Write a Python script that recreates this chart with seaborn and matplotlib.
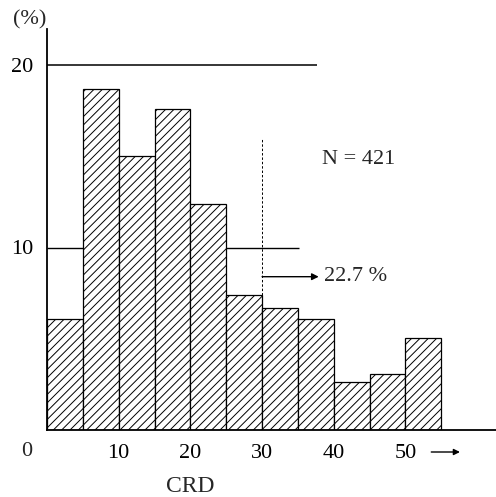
import matplotlib
matplotlib.use("Agg")
import matplotlib.pyplot as plt
import seaborn as sns
import numpy as np

# Data
bin_edges = [0, 5, 10, 15, 20, 25, 30, 35, 40, 45, 50, 55]
percent = [6.1, 18.7, 15.0, 17.6, 12.4, 7.4, 6.7, 6.1, 2.65, 3.05, 5.05]
xtick_vals = [10, 20, 30, 40, 50]
ytick_vals = [10, 20]
n_text = "N = 421"
cut_value = 30
cut_label = "22.7 %"

sns.set_style("white")
plt.rcParams['font.family'] = ['Liberation Serif', 'DejaVu Serif']
plt.rcParams['hatch.linewidth'] = 0.7

FS = 16

fig = plt.figure(figsize=(4.96, 4.97), dpi=100)
ax = fig.add_axes([47/496, 67/497, 448.8/496, 401.5/497])

centers = [(bin_edges[i] + bin_edges[i + 1]) / 2 for i in range(len(percent))]
sns.histplot(x=centers, weights=percent, bins=bin_edges, ax=ax,
             color="white", alpha=1, edgecolor="black", linewidth=0.9,
             hatch="////", zorder=3)

ax.set_xlim(0, 62.6)
ax.set_ylim(0, 22)

# partial reference lines (behind the bars)
ax.hlines(20, 0, 37.6, color="black", lw=1.1, zorder=1)
ax.hlines(10, 0, 35.1, color="black", lw=1.0, zorder=1)

# dashed cut line
ax.vlines(cut_value, percent[5], 16.0, color="black", lw=0.7,
          linestyles=(0, (2.5, 2)), zorder=4)
ax.annotate("", xy=(37.9, 8.4), xytext=(cut_value, 8.4),
            arrowprops=dict(arrowstyle="-|>", color="black", lw=1.0,
                            mutation_scale=10, shrinkA=0, shrinkB=0))
ax.text(38.7, 8.4, cut_label, fontsize=FS, va="center", ha="left")
ax.text(38.3, 14.8, n_text, fontsize=FS, va="center", ha="left")

# axes styling
for s in ["top", "right"]:
    ax.spines[s].set_visible(False)
for s in ["left", "bottom"]:
    ax.spines[s].set_color("black")
    ax.spines[s].set_linewidth(1.3)
    ax.spines[s].set_zorder(5)

ax.set_xticks(xtick_vals)
ax.set_xticklabels([str(v) for v in xtick_vals], fontsize=FS)
ax.set_yticks(ytick_vals)
ax.set_yticklabels([str(v) for v in ytick_vals], fontsize=FS)
ax.tick_params(axis="x", direction="out", length=5, width=1, pad=5, colors="black")
ax.tick_params(axis="y", direction="out", length=3, width=1, pad=7, colors="black")
ax.set_xlabel("")
ax.set_ylabel("")

# corner zero, unit label, axis name, arrow
ax.text(-2.8, -22 / 18.25, "0", fontsize=FS, ha="center", va="center", clip_on=False)
fig.text(30/496, 1 - 20/497, "(%)", fontsize=FS, ha="center", va="center")
fig.text(190/496, 1 - 486/497, "CRD", fontsize=17, ha="center", va="center")
ax.annotate("", xy=(57.6, -22 / 18.25), xytext=(53.6, -22 / 18.25),
            arrowprops=dict(arrowstyle="-|>", color="black", lw=1.0,
                            mutation_scale=9, shrinkA=0, shrinkB=0),
            annotation_clip=False)

fig.savefig("out.png", dpi=100)
